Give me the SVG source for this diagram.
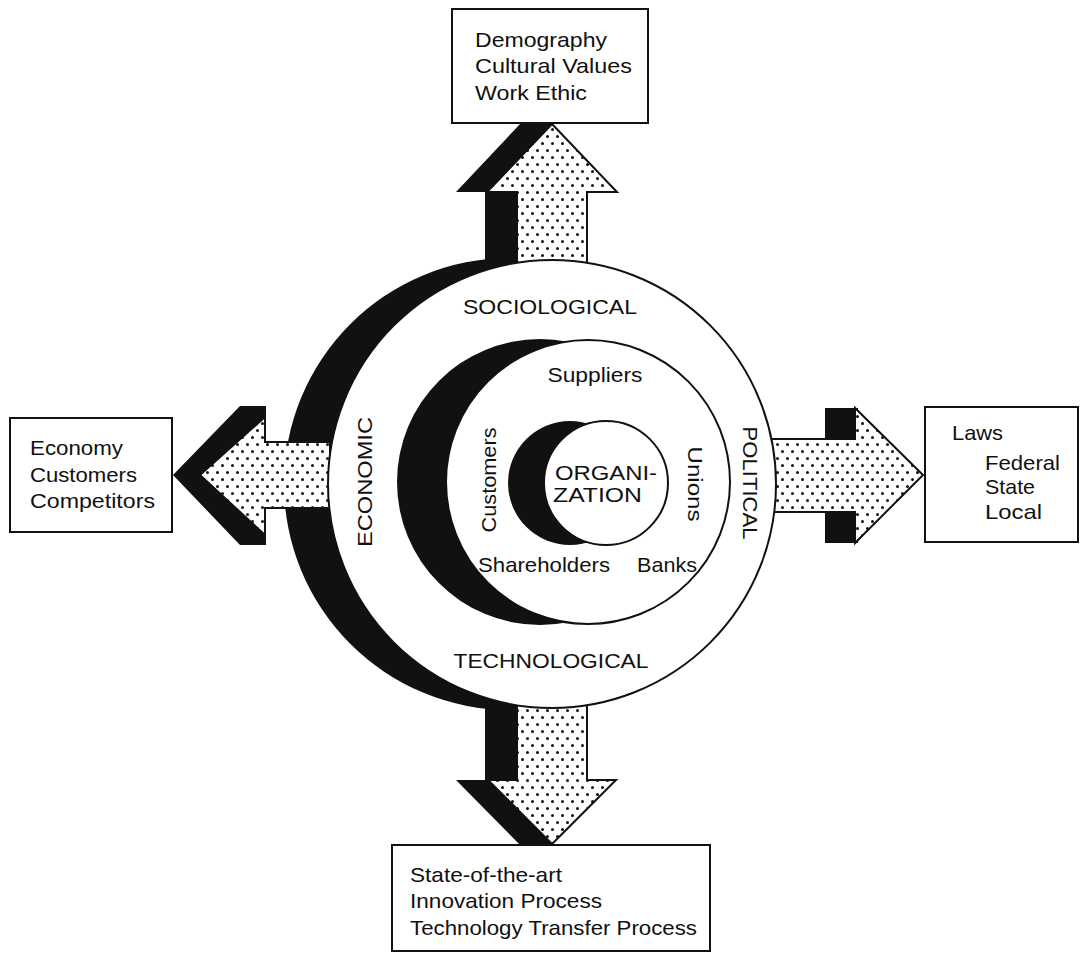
<svg xmlns="http://www.w3.org/2000/svg" width="1081" height="956" viewBox="0 0 1081 956">
<defs>
<pattern id="dots" width="10" height="14" patternUnits="userSpaceOnUse">
<rect width="10" height="14" fill="#fff"/>
<circle cx="2.5" cy="3.5" r="1.5" fill="#111"/>
<circle cx="7.5" cy="10.5" r="1.5" fill="#111"/>
</pattern>
</defs>
<style>
text{font-family:"Liberation Sans","Open Sans",sans-serif;fill:#111;font-size:21px}
.box{fill:#fff;stroke:#111;stroke-width:2}
.dot{fill:url(#dots);stroke:#111;stroke-width:2;stroke-linejoin:miter}
.shadow{fill:#111}
.ring{fill:#fff;stroke:#111;stroke-width:2}
.blk{fill:#111}
.cap{font-size:20px}
.mid{text-anchor:middle}
</style>
<rect width="1081" height="956" fill="#fff"/>

<g id="outer-shadow"><circle class="blk" cx="510" cy="484" r="226"/></g>

<g id="connectors">
  <g id="arrow-top">
    <polygon class="shadow" points="520,124 552,124 552,275 485,275 485,192 456,192"/>
    <polygon class="dot" points="552,124 617,192 587,192 587,275 517,275 517,192 487,192"/>
  </g>
  <g id="arrow-left">
    <polygon class="shadow" points="173,475 240,406 266,406 266,545 240,545"/>
    <polygon class="dot" points="200,475 265,417 265,442 330,442 330,508 265,508 265,535"/>
  </g>
  <g id="arrow-right">
    <polygon class="shadow" points="825,408 858,408 858,543 825,543"/>
    <polygon class="dot" points="770,439 855,439 855,408 923,475 855,543 855,512 770,512"/>
  </g>
  <g id="arrow-bottom">
    <polygon class="shadow" points="485,700 552,700 552,845 520,845 456,780 485,780"/>
    <polygon class="dot" points="517,700 587,700 587,780 616,780 552,844 488,780 517,780"/>
  </g>
</g>

<g id="environment">
  <circle class="ring" cx="552" cy="484" r="224"/>
  <text class="cap mid" x="550" y="314" textLength="174" lengthAdjust="spacingAndGlyphs">SOCIOLOGICAL</text>
  <text class="cap mid" x="551" y="668" textLength="195" lengthAdjust="spacingAndGlyphs">TECHNOLOGICAL</text>
  <text class="cap mid" transform="translate(372,482) rotate(-90)" textLength="130" lengthAdjust="spacingAndGlyphs">ECONOMIC</text>
  <text class="cap mid" transform="translate(743,483) rotate(90)" textLength="113" lengthAdjust="spacingAndGlyphs">POLITICAL</text>
</g>

<g id="stakeholders">
  <circle class="blk" cx="540" cy="482" r="143"/>
  <circle class="ring" cx="588" cy="482" r="142"/>
  <text class="mid" x="595" y="382" textLength="95" lengthAdjust="spacingAndGlyphs">Suppliers</text>
  <text x="478" y="572" textLength="132" lengthAdjust="spacingAndGlyphs">Shareholders</text>
  <text x="637" y="572" textLength="60" lengthAdjust="spacingAndGlyphs">Banks</text>
  <text class="mid" transform="translate(496,480) rotate(-90)" textLength="105" lengthAdjust="spacingAndGlyphs">Customers</text>
  <text class="mid" transform="translate(688,484) rotate(90)" textLength="75" lengthAdjust="spacingAndGlyphs">Unions</text>
</g>

<g id="organization">
  <circle class="blk" cx="570" cy="483" r="62"/>
  <circle class="ring" cx="606" cy="483" r="62"/>
  <text x="555" y="480" font-size="23" textLength="102" lengthAdjust="spacingAndGlyphs">ORGANI-</text>
  <text x="553" y="502" font-size="23" textLength="89" lengthAdjust="spacingAndGlyphs">ZATION</text>
</g>

<g id="box-top">
  <rect class="box" x="452" y="9" width="196" height="114"/>
  <text x="475" y="47" textLength="132" lengthAdjust="spacingAndGlyphs">Demography</text>
  <text x="475" y="73" textLength="157" lengthAdjust="spacingAndGlyphs">Cultural Values</text>
  <text x="475" y="100" textLength="112" lengthAdjust="spacingAndGlyphs">Work Ethic</text>
</g>

<g id="box-left">
  <rect class="box" x="10" y="418" width="162" height="114"/>
  <text x="30" y="455" textLength="93" lengthAdjust="spacingAndGlyphs">Economy</text>
  <text x="30" y="482" textLength="107" lengthAdjust="spacingAndGlyphs">Customers</text>
  <text x="30" y="508" textLength="125" lengthAdjust="spacingAndGlyphs">Competitors</text>
</g>

<g id="box-right">
  <rect class="box" x="925" y="407" width="153" height="135"/>
  <text x="952" y="440" textLength="51" lengthAdjust="spacingAndGlyphs">Laws</text>
  <text x="985" y="470" textLength="75" lengthAdjust="spacingAndGlyphs">Federal</text>
  <text x="985" y="494" textLength="50" lengthAdjust="spacingAndGlyphs">State</text>
  <text x="985" y="519" textLength="57" lengthAdjust="spacingAndGlyphs">Local</text>
</g>

<g id="box-bottom">
  <rect class="box" x="392" y="845" width="318" height="106"/>
  <text x="410" y="882" textLength="152" lengthAdjust="spacingAndGlyphs">State-of-the-art</text>
  <text x="410" y="908" textLength="192" lengthAdjust="spacingAndGlyphs">Innovation Process</text>
  <text x="410" y="935" textLength="287" lengthAdjust="spacingAndGlyphs">Technology Transfer Process</text>
</g>
</svg>
